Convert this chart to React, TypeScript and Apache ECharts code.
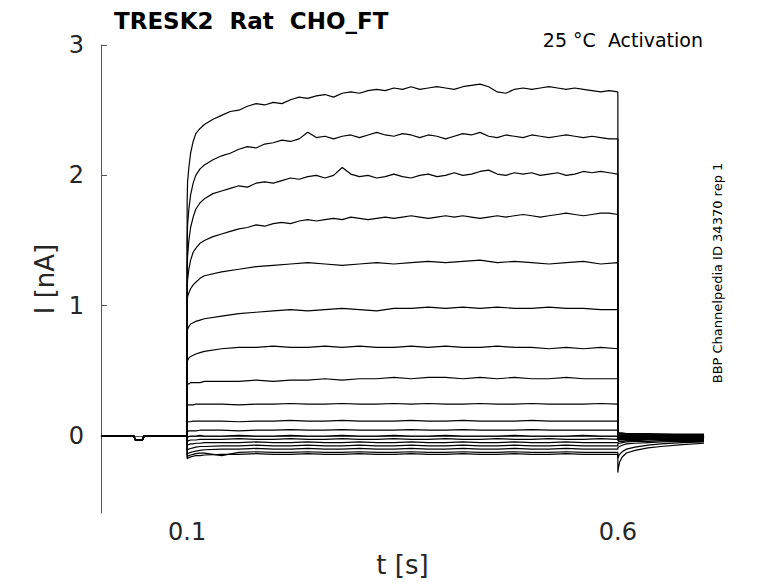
import { useEffect, useRef } from "react";
import * as echarts from "echarts";

// ---- data (t in s, I in nA) ----

// holding period before the step, shared by every sweep
const T_PRE = [0, 0.038, 0.04, 0.048, 0.05, 0.1];
const I_PRE = [0, 0, -0.03, -0.03, 0, 0];

// sample times during the step: fine grid for the four largest sweeps
const T_FINE = [
  0.1, 0.1005, 0.102, 0.104, 0.107, 0.11, 0.115, 0.12, 0.13, 0.14, 0.15, 0.16, 0.17, 0.18, 0.19,
  0.2, 0.21, 0.22, 0.23, 0.24, 0.25, 0.26, 0.27, 0.28, 0.29, 0.3, 0.31, 0.32, 0.33, 0.34, 0.35,
  0.36, 0.37, 0.38, 0.39, 0.4, 0.41, 0.42, 0.43, 0.44, 0.45, 0.46, 0.47, 0.48, 0.49, 0.5, 0.51,
  0.52, 0.53, 0.54, 0.55, 0.56, 0.57, 0.58, 0.59, 0.6,
];
const T_STEP = [
  0.1, 0.1005, 0.102, 0.104, 0.107, 0.11, 0.115, 0.12, 0.14, 0.16, 0.18, 0.2, 0.22, 0.24, 0.26,
  0.28, 0.3, 0.32, 0.34, 0.36, 0.38, 0.4, 0.42, 0.44, 0.46, 0.48, 0.5, 0.52, 0.54, 0.56, 0.58, 0.6,
];
// sample times after the step
const T_TAIL = [0.6, 0.6005, 0.602, 0.605, 0.61, 0.62, 0.635, 0.65, 0.675, 0.7];

const TRACE_01 = [
  1.8, 1.95, 2.06, 2.17, 2.26, 2.32, 2.36, 2.39, 2.43, 2.46, 2.49, 2.5, 2.53, 2.55, 2.54, 2.56,
  2.55, 2.58, 2.6, 2.59, 2.61, 2.62, 2.6, 2.63, 2.64, 2.63, 2.65, 2.66, 2.65, 2.67, 2.66, 2.68,
  2.66, 2.67, 2.68, 2.67, 2.66, 2.68, 2.69, 2.7, 2.68, 2.64, 2.63, 2.66, 2.67, 2.66, 2.67, 2.68,
  2.67, 2.66, 2.67, 2.66, 2.65, 2.64, 2.65, 2.64,
];
const TRACE_02 = [
  1.5, 1.62, 1.74, 1.85, 1.94, 2.0, 2.05, 2.08, 2.12, 2.15, 2.17, 2.2, 2.22, 2.21, 2.24, 2.25,
  2.27, 2.26, 2.28, 2.33, 2.29, 2.3, 2.28, 2.3, 2.31, 2.29, 2.31, 2.33, 2.31, 2.3, 2.32, 2.31,
  2.29, 2.31, 2.3, 2.28, 2.3, 2.32, 2.31, 2.33, 2.3, 2.29, 2.31, 2.3, 2.29, 2.31, 2.3, 2.29, 2.3,
  2.31, 2.3, 2.29, 2.3, 2.29, 2.28, 2.28,
];
const TRACE_03 = [
  1.28, 1.38, 1.5, 1.6, 1.68, 1.74, 1.79, 1.82, 1.86, 1.88, 1.9, 1.92, 1.91, 1.94, 1.95, 1.94,
  1.96, 1.98, 1.97, 1.99, 2.0, 1.98, 2.0, 2.06, 2.01, 1.99, 2.0, 1.98, 1.99, 2.01, 1.99, 1.98,
  2.0, 2.01, 1.99, 2.0, 2.02, 2.0, 2.01, 2.03, 2.04, 2.01, 2.0, 2.02, 2.01, 2.02, 2.0, 2.01, 2.02,
  2.0, 2.01, 2.03, 2.02, 2.03, 2.02, 2.01,
];
const TRACE_04 = [
  1.12, 1.2, 1.28, 1.35, 1.41, 1.44, 1.48, 1.5, 1.53, 1.55, 1.57, 1.59, 1.6, 1.62, 1.61, 1.63,
  1.64, 1.63, 1.65, 1.66, 1.65, 1.66, 1.67, 1.66, 1.68, 1.67, 1.66, 1.67, 1.68, 1.67, 1.68, 1.69,
  1.68, 1.67, 1.68, 1.69, 1.68, 1.69, 1.68, 1.67, 1.68, 1.69, 1.68, 1.69, 1.7, 1.69, 1.68, 1.69,
  1.7, 1.71, 1.7, 1.69, 1.7, 1.71, 1.71, 1.7,
];
const TRACE_05 = [
  1.02, 1.07, 1.1, 1.13, 1.16, 1.18, 1.21, 1.23, 1.26, 1.28, 1.3, 1.31, 1.32, 1.33, 1.32, 1.31,
  1.32, 1.33, 1.32, 1.33, 1.34, 1.33, 1.34, 1.35, 1.33, 1.34, 1.33, 1.32, 1.33, 1.34, 1.32, 1.33,
];
const TRACE_06 = [
  0.8, 0.82, 0.84, 0.86, 0.87, 0.88, 0.89, 0.9, 0.92, 0.94, 0.95, 0.96, 0.97, 0.96, 0.97, 0.98,
  0.97, 0.96, 0.98, 0.98, 0.99, 0.98, 0.99, 0.98, 0.99, 0.98, 0.98, 0.99, 0.98, 0.98, 0.97, 0.97,
];
const TRACE_07 = [
  0.57, 0.58, 0.6, 0.61, 0.62, 0.63, 0.64, 0.65, 0.67, 0.68, 0.68, 0.69, 0.68, 0.68, 0.69, 0.68,
  0.69, 0.68, 0.68, 0.69, 0.68, 0.69, 0.68, 0.68, 0.69, 0.68, 0.68, 0.67, 0.68, 0.67, 0.68, 0.67,
];
const TRACE_08 = [
  0.39, 0.4, 0.4, 0.41, 0.41, 0.41, 0.41, 0.42, 0.42, 0.42, 0.43, 0.42, 0.43, 0.43, 0.44, 0.43,
  0.44, 0.44, 0.45, 0.44, 0.45, 0.45, 0.44, 0.45, 0.44, 0.45, 0.44, 0.44, 0.45, 0.44, 0.44, 0.44,
];
const TRACE_09 = [
  0.23, 0.235, 0.24, 0.24, 0.24, 0.245, 0.245, 0.245, 0.245, 0.24, 0.245, 0.245, 0.25, 0.245,
  0.245, 0.25, 0.245, 0.245, 0.25, 0.245, 0.25, 0.245, 0.245, 0.25, 0.245, 0.245, 0.25, 0.245,
  0.245, 0.245, 0.25, 0.245,
];
const TRACE_10 = [
  0.11, 0.11, 0.11, 0.11, 0.115, 0.115, 0.115, 0.115, 0.115, 0.11, 0.115, 0.115, 0.12, 0.115,
  0.115, 0.12, 0.115, 0.115, 0.115, 0.12, 0.115, 0.115, 0.12, 0.115, 0.115, 0.115, 0.12, 0.115,
  0.115, 0.115, 0.115, 0.115,
];
const TRACE_11 = [
  0.03, 0.035, 0.04, 0.04, 0.04, 0.04, 0.045, 0.045, 0.045, 0.04, 0.045, 0.045, 0.05, 0.045,
  0.045, 0.05, 0.045, 0.045, 0.045, 0.05, 0.045, 0.045, 0.05, 0.045, 0.045, 0.045, 0.05, 0.045,
  0.045, 0.045, 0.045, 0.045,
];
const TRACE_12 = [
  -0.01, -0.01, -0.005, 0, 0, 0, 0.005, 0, 0, 0.005, 0, 0, 0.005, 0, 0, 0.005, 0, 0, 0.005, 0, 0,
  0.005, 0, 0, 0, 0.005, 0, 0, 0, 0.005, 0, 0,
];
const TRACE_13 = [
  -0.04, -0.04, -0.035, -0.03, -0.03, -0.03, -0.025, -0.025, -0.025, -0.02, -0.025, -0.025, -0.02,
  -0.025, -0.025, -0.02, -0.025, -0.025, -0.02, -0.025, -0.025, -0.02, -0.025, -0.025, -0.02,
  -0.025, -0.025, -0.02, -0.025, -0.025, -0.02, -0.025,
];
const TRACE_14 = [
  -0.07, -0.07, -0.065, -0.06, -0.06, -0.055, -0.055, -0.05, -0.05, -0.05, -0.045, -0.05, -0.05,
  -0.045, -0.05, -0.05, -0.045, -0.05, -0.05, -0.045, -0.05, -0.05, -0.045, -0.05, -0.05, -0.045,
  -0.05, -0.05, -0.045, -0.05, -0.05, -0.05,
];
const TRACE_15 = [
  -0.11, -0.105, -0.1, -0.095, -0.09, -0.085, -0.08, -0.08, -0.075, -0.075, -0.07, -0.075, -0.075,
  -0.07, -0.075, -0.075, -0.07, -0.075, -0.075, -0.07, -0.075, -0.075, -0.07, -0.075, -0.075,
  -0.07, -0.075, -0.075, -0.07, -0.075, -0.075, -0.075,
];
const TRACE_16 = [
  -0.14, -0.135, -0.13, -0.125, -0.12, -0.115, -0.11, -0.105, -0.1, -0.1, -0.095, -0.1, -0.1,
  -0.095, -0.1, -0.1, -0.095, -0.1, -0.1, -0.095, -0.1, -0.1, -0.095, -0.1, -0.1, -0.095, -0.1,
  -0.1, -0.095, -0.1, -0.1, -0.1,
];
const TRACE_17 = [
  -0.16, -0.155, -0.15, -0.145, -0.14, -0.135, -0.13, -0.13, -0.15, -0.125, -0.12, -0.125,
  -0.125, -0.12, -0.125, -0.125, -0.12, -0.125, -0.125, -0.12, -0.125, -0.125, -0.12, -0.125,
  -0.125, -0.12, -0.125, -0.125, -0.12, -0.125, -0.125, -0.125,
];
const TRACE_18 = [
  -0.175, -0.17, -0.165, -0.16, -0.155, -0.15, -0.15, -0.145, -0.14, -0.14, -0.135, -0.14, -0.14,
  -0.135, -0.14, -0.14, -0.135, -0.14, -0.14, -0.135, -0.14, -0.14, -0.135, -0.14, -0.14, -0.135,
  -0.14, -0.14, -0.135, -0.14, -0.14, -0.14,
];

const TAIL_01 = [0.03, 0.03, 0.025, 0.025, 0.02, 0.02, 0.02, 0.015, 0.015, 0.015];
const TAIL_02 = [0.025, 0.025, 0.02, 0.02, 0.02, 0.015, 0.015, 0.015, 0.01, 0.01];
const TAIL_03 = [0.02, 0.02, 0.02, 0.015, 0.015, 0.01, 0.01, 0.01, 0.01, 0.01];
const TAIL_04 = [0.015, 0.015, 0.01, 0.01, 0.01, 0.005, 0.005, 0.005, 0.005, 0.005];
const TAIL_05 = [0.01, 0.01, 0.005, 0.005, 0.005, 0, 0, 0, 0, 0];
const TAIL_06 = [0.005, 0.005, 0, 0, 0, 0, -0.005, -0.005, -0.005, -0.005];
const TAIL_07 = [0, 0, 0, -0.005, -0.005, -0.005, -0.005, -0.01, -0.01, -0.01];
const TAIL_08 = [-0.005, -0.005, -0.005, -0.01, -0.01, -0.01, -0.01, -0.01, -0.01, -0.01];
const TAIL_09 = [-0.01, -0.01, -0.01, -0.01, -0.015, -0.015, -0.015, -0.015, -0.015, -0.015];
const TAIL_10 = [-0.015, -0.015, -0.015, -0.015, -0.015, -0.02, -0.02, -0.02, -0.02, -0.02];
const TAIL_11 = [-0.02, -0.02, -0.02, -0.02, -0.02, -0.02, -0.02, -0.02, -0.02, -0.02];
const TAIL_12 = [-0.025, -0.025, -0.025, -0.025, -0.025, -0.025, -0.025, -0.025, -0.02, -0.02];
const TAIL_13 = [-0.035, -0.035, -0.03, -0.03, -0.03, -0.03, -0.025, -0.025, -0.025, -0.025];
const TAIL_14 = [-0.045, -0.045, -0.04, -0.04, -0.035, -0.035, -0.03, -0.03, -0.03, -0.03];
const TAIL_15 = [-0.06, -0.06, -0.055, -0.05, -0.045, -0.04, -0.04, -0.035, -0.035, -0.035];
const TAIL_16 = [-0.09, -0.085, -0.08, -0.07, -0.06, -0.055, -0.05, -0.045, -0.04, -0.04];
const TAIL_17 = [-0.17, -0.16, -0.14, -0.12, -0.1, -0.085, -0.07, -0.06, -0.05, -0.045];
const TAIL_18 = [-0.28, -0.25, -0.2, -0.16, -0.13, -0.11, -0.09, -0.08, -0.065, -0.055];

const X_TICKS = [0.1, 0.6];
const Y_TICKS = [0, 1, 2, 3];

const STEPS = [
  TRACE_01, TRACE_02, TRACE_03, TRACE_04, TRACE_05, TRACE_06, TRACE_07, TRACE_08, TRACE_09,
  TRACE_10, TRACE_11, TRACE_12, TRACE_13, TRACE_14, TRACE_15, TRACE_16, TRACE_17, TRACE_18,
];
const TAILS = [
  TAIL_01, TAIL_02, TAIL_03, TAIL_04, TAIL_05, TAIL_06, TAIL_07, TAIL_08, TAIL_09,
  TAIL_10, TAIL_11, TAIL_12, TAIL_13, TAIL_14, TAIL_15, TAIL_16, TAIL_17, TAIL_18,
];

const FONT = "DejaVu Sans";
const AXIS_COLOR = "#555555";
const TEXT_COLOR = "#262626";

function sweepData(k: number) {
  const step = STEPS[k];
  const times = step.length === T_FINE.length ? T_FINE : T_STEP;
  return [
    ...T_PRE.map((t, i) => [t, I_PRE[i]]),
    ...times.map((t, i) => [t, step[i]]),
    ...T_TAIL.map((t, i) => [t, TAILS[k][i]]),
  ];
}

function buildOption(): echarts.EChartsCoreOption {
  return {
    animation: false,
    backgroundColor: "#ffffff",
    textStyle: { fontFamily: FONT },
    title: {
      text: "TRESK2  Rat  CHO_FT",
      left: 109,
      top: 4,
      textStyle: { fontFamily: FONT, fontSize: 23, fontWeight: "bold", color: "#000000" },
    },
    grid: { left: 101, right: 74, top: 45, bottom: 70, containLabel: false },
    xAxis: {
      type: "value",
      min: 0,
      max: 0.7,
      name: "t [s]",
      nameLocation: "middle",
      nameGap: 39,
      nameTextStyle: { fontFamily: FONT, fontSize: 26, color: TEXT_COLOR },
      axisLine: { show: true, lineStyle: { color: AXIS_COLOR, width: 1 } },
      axisTick: {
        show: true,
        inside: true,
        length: 6,
        customValues: X_TICKS,
        lineStyle: { color: AXIS_COLOR },
      },
      axisLabel: {
        customValues: X_TICKS,
        margin: 7,
        fontFamily: FONT,
        fontSize: 24,
        color: TEXT_COLOR,
        formatter: (v: number) => v.toFixed(1),
      },
      splitLine: { show: false },
    },
    yAxis: {
      type: "value",
      min: -0.59,
      max: 3,
      name: "I [nA]",
      nameLocation: "middle",
      nameGap: 38,
      nameTextStyle: { fontFamily: FONT, fontSize: 26, color: TEXT_COLOR },
      axisLine: { show: true, lineStyle: { color: AXIS_COLOR, width: 1 } },
      axisTick: {
        show: true,
        inside: true,
        length: 6,
        customValues: Y_TICKS,
        lineStyle: { color: AXIS_COLOR },
      },
      axisLabel: {
        customValues: Y_TICKS,
        margin: 17,
        fontFamily: FONT,
        fontSize: 24,
        color: TEXT_COLOR,
        formatter: (v: number) => String(Math.round(v)),
      },
      splitLine: { show: false },
    },
    graphic: [
      {
        type: "text",
        right: 75,
        top: 30,
        style: {
          text: "25 °C  Activation",
          fontFamily: FONT,
          fontSize: 19,
          fill: "#000000",
        },
      },
      {
        type: "text",
        x: 717,
        y: 273,
        rotation: Math.PI / 2,
        style: {
          text: "BBP Channelpedia ID 34370 rep 1",
          fontFamily: FONT,
          fontSize: 13,
          fill: "#000000",
          align: "center",
          verticalAlign: "middle",
        },
      },
    ],
    series: STEPS.map((_, k) => ({
      type: "line",
      data: sweepData(k),
      symbol: "none",
      silent: true,
      lineStyle: { color: "#000000", width: 1.2 },
    })),
  };
}

export default function App() {
  const chartRef = useRef<HTMLDivElement>(null);

  useEffect(() => {
    if (!chartRef.current) return;
    const chart = echarts.init(chartRef.current, undefined, { renderer: "svg" });
    chart.setOption(buildOption());
    return () => chart.dispose();
  }, []);

  return (
    <div
      ref={chartRef}
      style={{ position: "fixed", left: 0, top: 0, width: 778, height: 583, background: "#fff" }}
    />
  );
}
